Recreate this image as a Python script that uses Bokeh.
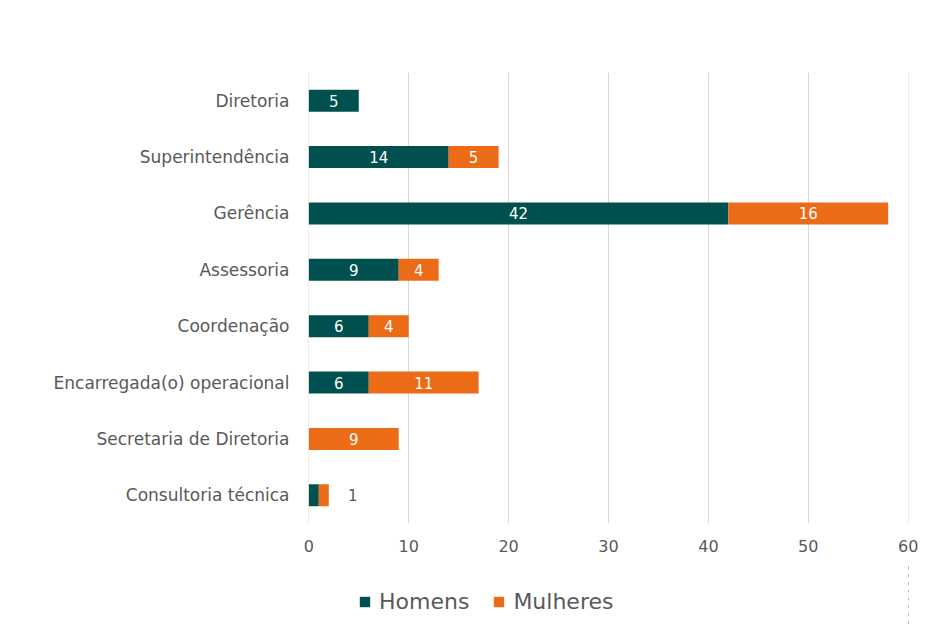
from bokeh.plotting import figure
from bokeh.layouts import column
from bokeh.models import FactorRange, Range1d, Legend, LegendItem, ColumnDataSource, LabelSet
from bokeh.embed import file_html
from bokeh.resources import INLINE
from bokeh.core.properties import value

categories = ["Diretoria", "Superintendência", "Gerência", "Assessoria", "Coordenação",
              "Encarregada(o) operacional", "Secretaria de Diretoria", "Consultoria técnica"]
homens = [5, 14, 42, 9, 6, 6, 0, 1]
mulheres = [0, 5, 16, 4, 4, 11, 9, 1]
homens_labels = ["5", "14", "42", "9", "6", "6", "", ""]
mulheres_labels = ["", "5", "16", "4", "4", "11", "9", ""]
outside_labels = ["", "", "", "", "", "", "", "1"]
x_ticks = [0, 10, 20, 30, 40, 50, 60]
series = ["Homens", "Mulheres"]
colors = ["#00504F", "#EC6B16"]

FONT = "DejaVu Sans"
GRAY = "#595959"

src = ColumnDataSource(dict(
    cat=categories, Homens=homens, Mulheres=mulheres,
    hl=homens_labels, ml=mulheres_labels, ol=outside_labels,
    hx=[h / 2 for h in homens],
    mx=[h + m / 2 for h, m in zip(homens, mulheres)],
    ox=[h + m + 2.4 for h, m in zip(homens, mulheres)],
))

p = figure(y_range=FactorRange(*reversed(categories)), x_range=Range1d(-0.03, 60.03),
           frame_width=600, frame_height=451,
           min_border_left=308, min_border_right=25, min_border_top=72, min_border_bottom=40,
           output_backend="svg", toolbar_location=None)

rs = p.hbar_stack(series, y="cat", height=0.39, color=colors, source=src, line_width=0)

for col_x, col_t, c in (("hx", "hl", "white"), ("mx", "ml", "white"), ("ox", "ol", GRAY)):
    p.add_layout(LabelSet(x=col_x, y="cat", text=col_t, source=src, text_align="center",
                          text_baseline="middle", text_color=c, text_font=value(FONT),
                          text_font_size="15px"))

p.background_fill_color = "white"
p.border_fill_color = "white"
p.outline_line_color = None

p.ygrid.grid_line_color = None
p.xgrid.ticker = x_ticks
p.xgrid.grid_line_color = "#D9D9D9"
p.xgrid.grid_line_width = 1

p.xaxis.ticker = x_ticks
for ax in (p.xaxis[0], p.yaxis[0]):
    ax.axis_line_color = None
    ax.major_tick_line_color = None
    ax.minor_tick_line_color = None
    ax.major_tick_out = 0
    ax.major_tick_in = 0
    ax.major_label_text_color = GRAY
    ax.major_label_text_font = FONT
p.yaxis.major_label_text_font_size = "17px"
p.xaxis.major_label_text_font_size = "16px"
p.yaxis.major_label_standoff = 19
p.xaxis.major_label_standoff = 16

# legend strip below the chart (its bars lie outside its visible range; only the legend shows)
pl = figure(width=933, height=63, x_axis_type=None, y_axis_type=None,
            y_range=FactorRange(*reversed(categories)), x_range=Range1d(-200, -100),
            min_border_left=0, min_border_right=0, min_border_top=0, min_border_bottom=0,
            output_backend="svg", toolbar_location=None)
pl.outline_line_color = None
pl.background_fill_color = "white"
pl.border_fill_color = "white"
pl.xgrid.grid_line_color = None
pl.ygrid.grid_line_color = None
swatches = pl.hbar_stack(series, y="cat", height=0.39, color=colors, source=src, line_width=0)

legend = Legend(items=[LegendItem(label=s, renderers=[r]) for s, r in zip(series, swatches)],
                orientation="horizontal", location=(50, 12),
                label_text_font=FONT, label_text_font_size="22px", label_text_color=GRAY,
                glyph_width=13, glyph_height=13, label_standoff=8, spacing=23,
                border_line_color=None, background_fill_alpha=0, margin=0, padding=5)
pl.add_layout(legend, "center")

open("out.html", "w").write(file_html(column(p, pl, spacing=0), INLINE))
